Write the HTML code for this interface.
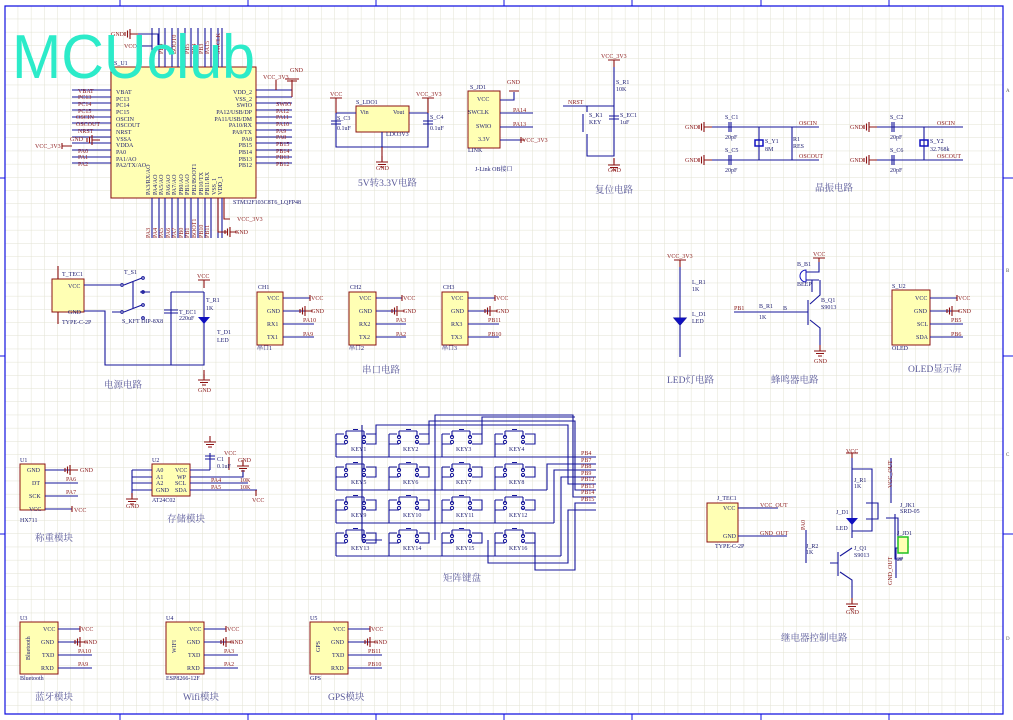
<!DOCTYPE html>
<html><head><meta charset="utf-8"><style>
html,body{margin:0;padding:0;background:#fff}
svg{display:block}
.w{stroke:#16169a;stroke-width:1.1;fill:none}
.r{stroke:#8b1010;stroke-width:1.1;fill:none}
.b{fill:#ffffb4;stroke:#8b1010;stroke-width:1}
.t{font-family:"Liberation Serif","Noto Serif CJK SC",serif;font-size:6px;fill:#1c1c70}
.n{font-family:"Liberation Serif","Noto Serif CJK SC",serif;font-size:6px;fill:#8b1a1a}
.g{font-family:"Liberation Serif","Noto Serif CJK SC",serif;font-size:5px;fill:#555}
.c{font-family:"Liberation Serif","Noto Serif CJK SC",serif;font-size:9.5px;fill:#5a5a9a}
</style></head><body>
<svg width="1013" height="720" viewBox="0 0 1013 720" xmlns="http://www.w3.org/2000/svg">
<defs>
<pattern id="grid" width="13.2" height="13.2" patternUnits="userSpaceOnUse" x="5" y="6">
<path d="M13.2 0V13.2H0" fill="none" stroke="#e2e2d2" stroke-width="1"/>
</pattern>
<g id="gnd"><path class="r" d="M0 -6V0M-6 0H6M-4 2.5H4M-2 5H2"/></g>
<g id="gl"><path class="r" d="M8 0H0M0 -5V5M-2.5 -3.5V3.5M-5 -2V2"/></g>
<g id="key"><path class="w" d="M0 0V10H10M0 0H8M30 0H40V10H30M40 10V10"/>
<circle cx="10" cy="3" r="1.6" fill="none" stroke="#16169a"/><circle cx="10" cy="8" r="1.6" fill="none" stroke="#16169a"/>
<circle cx="28" cy="3" r="1.6" fill="none" stroke="#16169a"/><circle cx="28" cy="8" r="1.6" fill="none" stroke="#16169a"/>
<path class="w" d="M10 -3H28M17 -4.5H22M10 10V10"/><path class="w" d="M28 10V8M10 3V-3M28 3V-3"/></g>
</defs>
<rect width="1013" height="720" fill="#fff"/>
<rect x="5" y="6" width="998" height="708" fill="url(#grid)"/>
<!-- frame -->
<path d="M5 6H1003V714H5Z" fill="none" stroke="#1010e0" stroke-width="1.2"/>
<path d="M120 0V6M248 0V6M376 0V6M504 0V6M632 0V6M761 0V6M889 0V6M120 714V720M248 714V720M376 714V720M504 714V720M632 714V720M761 714V720M889 714V720M0 178H5M0 356H5M0 534H5M1003 178H1013M1003 356H1013M1003 534H1013" stroke="#1010e0" stroke-width="1"/>
<text x="1006" y="92" class="g">A</text><text x="1006" y="272" class="g">B</text><text x="1006" y="456" class="g">C</text><text x="1006" y="640" class="g">D</text>

<!-- MCU -->
<rect x="111" y="67" width="145" height="131" class="b"/>
<g class="w">
<path d="M72 90H111M72 97H111M72 103H111M72 110H111M72 117H111M72 123H111M72 130H111M72 137H111M72 143H111M72 150H111M72 157H111M72 163H111"/>
<path d="M256 90H292M256 97H292M256 103H292M256 110H292M256 117H292M256 123H292M256 130H292M256 137H292M256 143H292M256 150H292M256 157H292M256 163H292"/>
<path d="M152 28V67M159 28V67M165 28V67M172 28V67M178 28V67M185 28V67M191 28V67M198 28V67M205 28V67M211 28V67M218 28V67M222 28V67"/>
<path d="M152 198V238M159 198V238M165 198V238M172 198V238M178 198V238M185 198V238M191 198V238M198 198V238M205 198V238M211 198V238M218 198V238M222 198V238"/>
<path d="M136 34H158V45M136 46H152"/>
</g>
<use href="#gl" x="130" y="34"/><text x="111" y="36" class="n">GND</text><text x="124" y="48" class="n">VCC</text>
<text x="114" y="65" class="t">S_U1</text>
<g class="t" font-size="5.5">
<text x="116" y="94">VBAT</text><text x="116" y="101">PC13</text><text x="116" y="107">PC14</text><text x="116" y="114">PC15</text><text x="116" y="121">OSCIN</text><text x="116" y="127">OSCOUT</text><text x="116" y="134">NRST</text><text x="116" y="141">VSSA</text><text x="116" y="147">VDDA</text><text x="116" y="154">PA0</text><text x="116" y="161">PA1/AO</text><text x="116" y="167">PA2/TX/AO</text>
<text x="252" y="94" text-anchor="end">VDD_2</text><text x="252" y="101" text-anchor="end">VSS_2</text><text x="252" y="107" text-anchor="end">SWIO</text><text x="252" y="114" text-anchor="end">PA12/USB/DP</text><text x="252" y="121" text-anchor="end">PA11/USB/DM</text><text x="252" y="127" text-anchor="end">PA10/RX</text><text x="252" y="134" text-anchor="end">PA9/TX</text><text x="252" y="141" text-anchor="end">PA8</text><text x="252" y="147" text-anchor="end">PB15</text><text x="252" y="154" text-anchor="end">PB14</text><text x="252" y="161" text-anchor="end">PB13</text><text x="252" y="167" text-anchor="end">PB12</text>
</g>
<g class="n" font-size="5.5">
<text x="78" y="93">VBAT</text><text x="78" y="99">PC13</text><text x="78" y="106">PC14</text><text x="78" y="113">PC15</text><text x="76" y="119">OSCIN</text><text x="76" y="126">OSCOUT</text><text x="78" y="133">NRST</text><text x="78" y="153">PA0</text><text x="78" y="159">PA1</text><text x="78" y="166">PA2</text>
<text x="276" y="106">SWIO</text><text x="276" y="113">PA12</text><text x="276" y="119">PA11</text><text x="276" y="126">PA10</text><text x="276" y="133">PA9</text><text x="276" y="139">PA8</text><text x="276" y="146">PB15</text><text x="276" y="153">PB14</text><text x="276" y="159">PB13</text><text x="276" y="166">PB12</text>
<text x="35" y="148">VCC_3V3</text><text x="70" y="141">GND</text>
<text x="263" y="79">VCC_3V3</text><text x="290" y="72">GND</text>
<text x="237" y="221">VCC_3V3</text><text x="235" y="234">GND</text>
</g>
<path class="r" d="M62 146H72M62 143V149M276 80V90M292 80V97M285 79H299M287 81H297M224 198V219H230M218 198V232H228"/>
<use href="#gl" x="92" y="140"/>
<use href="#gl" x="230" y="232"/>
<text x="233" y="204" class="t" font-size="5.5">STM32F103C8T6_LQFP48</text>
<g class="n" font-size="5">
<text transform="translate(150,238) rotate(-90)">PA3</text><text transform="translate(157,238) rotate(-90)">PA4</text><text transform="translate(163,238) rotate(-90)">PA5</text><text transform="translate(170,238) rotate(-90)">PA6</text><text transform="translate(176,238) rotate(-90)">PA7</text><text transform="translate(183,238) rotate(-90)">PB0</text><text transform="translate(189,238) rotate(-90)">PB1</text><text transform="translate(196,238) rotate(-90)">BOOT1</text><text transform="translate(203,238) rotate(-90)">PB10</text><text transform="translate(209,238) rotate(-90)">PB11</text>
<text transform="translate(163,54) rotate(-90)">PB9</text><text transform="translate(176,54) rotate(-90)">BOOT0</text><text transform="translate(189,54) rotate(-90)">PB5</text><text transform="translate(196,54) rotate(-90)">PB4</text><text transform="translate(203,54) rotate(-90)">PB3</text><text transform="translate(209,54) rotate(-90)">PA15</text><text transform="translate(220,54) rotate(-90)">SWCLK</text>
</g>
<g class="t" font-size="5"><text transform="translate(150,195) rotate(-90)">PA3/RX/AO</text><text transform="translate(157,195) rotate(-90)">PA4/AO</text><text transform="translate(163,195) rotate(-90)">PA5/AO</text><text transform="translate(170,195) rotate(-90)">PA6/AO</text><text transform="translate(176,195) rotate(-90)">PA7/AO</text><text transform="translate(183,195) rotate(-90)">PB0/AO</text><text transform="translate(189,195) rotate(-90)">PB1/AO</text><text transform="translate(196,195) rotate(-90)">PB2/BOOT1</text><text transform="translate(203,195) rotate(-90)">PB10/TX</text><text transform="translate(209,195) rotate(-90)">PB11/RX</text><text transform="translate(216,195) rotate(-90)">VSS_1</text><text transform="translate(222,195) rotate(-90)">VDD_1</text></g>
<text x="12" y="78" font-family="Liberation Sans,sans-serif" font-size="62" fill="#2cebc9" textLength="243" lengthAdjust="spacingAndGlyphs">MCUclub</text>

<!-- LDO -->
<rect x="356" y="106" width="53" height="26" class="b"/>
<g class="w"><path d="M336 113H356M409 113H428M336 113V147H428V113M382 132V147"/>
<path d="M331 121H341M331 124H341M423 121H433M423 124H433"/></g>
<path class="r" d="M336 98V113M330 98H342M428 98V113M422 98H434M382 147V162"/>
<use href="#gnd" x="382" y="162"/>
<text x="330" y="96" class="n">VCC</text><text x="416" y="96" class="n">VCC_3V3</text><text x="376" y="170" class="n">GND</text>
<text x="356" y="104" class="t">S_LDO1</text><text x="360" y="114" class="t">Vin</text><text x="393" y="114" class="t">Vout</text><text x="386" y="136" class="t">LDO3V3</text>
<text x="337" y="120" class="t">S_C3</text><text x="337" y="130" class="t">0.1uF</text><text x="430" y="119" class="t">S_C4</text><text x="430" y="130" class="t">0.1uF</text>
<text x="358" y="186" class="c" font-size="9">5V转3.3V电路</text>
<!-- JLink -->
<rect x="468" y="91" width="32" height="57" class="b"/>
<g class="w"><path d="M500 100H514V92M500 113H533M500 127H533M500 140H521"/></g>
<path class="r" d="M509 91H519M521 137V143M521 140H525"/>
<text x="507" y="84" class="n">GND</text>
<text x="470" y="89" class="t">S_JD1</text><text x="477" y="101" class="t">VCC</text><text x="468" y="114" class="t">SWCLK</text><text x="476" y="128" class="t">SWIO</text><text x="478" y="141" class="t">3.3V</text><text x="468" y="152" class="t">LINK</text>
<text x="513" y="112" class="n">PA14</text><text x="513" y="126" class="n">PA13</text><text x="522" y="142" class="n">VCC_3V3</text>
<text x="475" y="171" class="t" font-size="8.5" fill="#222">J-Link OB接口</text>
<!-- reset -->
<path class="r" d="M614 60V67M608 60H620M614 158V163"/><use href="#gnd" x="614" y="165"/>
<g class="w"><path d="M614 67V106M563 106H614V156H587V134M587 106V112M614 106V115M614 120V156M609 116H619M609 119H619M583 114V132"/></g>
<text x="601" y="58" class="n">VCC_3V3</text><text x="568" y="104" class="n">NRST</text><text x="608" y="172" class="n">GND</text>
<text x="616" y="84" class="t">S_R1</text><text x="616" y="91" class="t">10K</text><text x="589" y="117" class="t">S_K1</text><text x="589" y="124" class="t">KEY</text><text x="620" y="117" class="t">S_EC1</text><text x="620" y="124" class="t">1uF</text>
<text x="595" y="193" class="c">复位电路</text>
<!-- crystal -->
<g class="w"><path d="M712 127H819M712 160H819M759 127V160M792 127V160M729 122V132M731 122V132M729 155V165M731 155V165"/>
<path d="M876 127H963M876 160H963M924 127V160M892 122V132M894 122V132M892 155V165M894 155V165"/></g>
<rect x="755" y="140" width="8" height="6" fill="none" stroke="#1010c0" stroke-width="1.5"/>
<rect x="920" y="140" width="8" height="6" fill="none" stroke="#1010c0" stroke-width="1.5"/>
<use href="#gl" x="704" y="127"/><use href="#gl" x="704" y="160"/><use href="#gl" x="869" y="127"/><use href="#gl" x="869" y="160"/>
<g class="n"><text x="685" y="129">GND</text><text x="685" y="162">GND</text><text x="850" y="129">GND</text><text x="850" y="162">GND</text>
<text x="799" y="125">OSCIN</text><text x="799" y="158">OSCOUT</text><text x="937" y="125">OSCIN</text><text x="937" y="158">OSCOUT</text></g>
<g class="t"><text x="725" y="119">S_C1</text><text x="725" y="139">20pF</text><text x="725" y="152">S_C5</text><text x="725" y="172">20pF</text><text x="765" y="143">S_Y1</text><text x="765" y="151">8M</text><text x="793" y="141">R1</text><text x="793" y="148">RES</text>
<text x="890" y="119">S_C2</text><text x="890" y="139">20pF</text><text x="890" y="152">S_C6</text><text x="890" y="172">20pF</text><text x="930" y="143">S_Y2</text><text x="930" y="151">32.768k</text></g>
<text x="815" y="191" class="c">晶振电路</text>

<!-- power -->
<rect x="52" y="279" width="32" height="33" class="b"/>
<g class="w"><path d="M84 285H112M84 311H105V365H204V307M171 292H204M171 292V365M204 292V330M164 310H178M164 313H178"/>
<path d="M112 285H120M124 285L142 278M112 312H120M124 312L142 305M133 282V308M140 292H150"/>
<circle cx="122" cy="285" r="1.3"/><circle cx="122" cy="312" r="1.3"/><circle cx="143" cy="278" r="1.3"/><circle cx="143" cy="292" r="1.3"/><circle cx="143" cy="305" r="1.3"/><circle cx="143" cy="318" r="1.3"/></g>
<path d="M198 317H210L204 324Z" fill="#1010c0"/>
<path class="r" d="M204 280V288M198 280H210M204 370V378M58 266V279M58 312V324"/>
<use href="#gnd" x="204" y="380"/>
<text x="197" y="278" class="n">VCC</text><text x="198" y="392" class="n">GND</text>
<g class="t"><text x="62" y="276">T_TEC1</text><text x="68" y="288">VCC</text><text x="68" y="314">GND</text><text x="62" y="324">TYPE-C-2P</text><text x="124" y="274">T_S1</text><text x="122" y="323">S_KFT DIP-8X8</text><text x="179" y="314">T_EC1</text><text x="179" y="320">220uF</text><text x="206" y="302">T_R1</text><text x="206" y="310">1K</text><text x="217" y="334">T_D1</text><text x="217" y="342">LED</text></g>
<text x="104" y="388" class="c">电源电路</text>
<!-- serial -->
<g>
<rect x="257" y="292" width="26" height="53" class="b"/><rect x="349" y="292" width="27" height="53" class="b"/><rect x="442" y="292" width="26" height="53" class="b"/>
<g class="w"><path d="M283 298H310M283 311H305M283 324H314M283 337H314M376 298H402M376 311H397M376 324H406M376 337H406M468 298H495M468 311H490M468 324H499M468 337H499"/></g>
<path class="r" d="M310 295V301M402 295V301M495 295V301"/>
<use href="#gl" x="305" y="311"/><use href="#gl" x="397" y="311"/><use href="#gl" x="490" y="311"/>
<g class="t"><text x="258" y="289">CH1</text><text x="350" y="289">CH2</text><text x="443" y="289">CH3</text>
<text x="267" y="300">VCC</text><text x="267" y="313">GND</text><text x="267" y="326">RX1</text><text x="267" y="339">TX1</text><text x="257" y="350">串口1</text>
<text x="359" y="300">VCC</text><text x="359" y="313">GND</text><text x="359" y="326">RX2</text><text x="359" y="339">TX2</text><text x="349" y="350">串口2</text>
<text x="451" y="300">VCC</text><text x="451" y="313">GND</text><text x="451" y="326">RX3</text><text x="451" y="339">TX3</text><text x="442" y="350">串口3</text></g>
<g class="n"><text x="311" y="300">VCC</text><text x="311" y="313">GND</text><text x="303" y="322">PA10</text><text x="303" y="336">PA9</text>
<text x="403" y="300">VCC</text><text x="403" y="313">GND</text><text x="396" y="322">PA3</text><text x="396" y="336">PA2</text>
<text x="496" y="300">VCC</text><text x="496" y="313">GND</text><text x="488" y="322">PB11</text><text x="488" y="336">PB10</text></g>
<text x="362" y="373" class="c">串口电路</text>
</g>
<!-- LED -->
<path class="r" d="M680 260V267M674 260H686"/>
<g class="w"><path d="M680 267V357M674 318H686L680 325Z"/></g><path d="M674 318H686L680 325Z" fill="#1010c0"/>
<text x="667" y="258" class="n">VCC_3V3</text><text x="692" y="284" class="t">L_R1</text><text x="692" y="291" class="t">1K</text><text x="692" y="316" class="t">L_D1</text><text x="692" y="323" class="t">LED</text>
<text x="667" y="383" class="c" fill="#222">LED灯电路</text>
<!-- buzzer -->
<g class="w"><path d="M734 312H808M808 300V325M810 304L820 295V280M810 320L820 328V345M819 262V272H806M806 280H819M812 280V292"/></g>
<path d="M806 270A5 5 0 0 0 806 282Z" fill="none" stroke="#1010c0"/>
<path class="r" d="M819 258V262M813 258H825"/><use href="#gnd" x="820" y="351"/>
<text x="813" y="256" class="n">VCC</text><text x="814" y="363" class="n">GND</text><text x="734" y="310" class="n">PB1</text>
<g class="t"><text x="797" y="266">B_B1</text><text x="797" y="286">BEEP</text><text x="759" y="308">B_R1</text><text x="759" y="319">1K</text><text x="783" y="310">B</text><text x="821" y="302">B_Q1</text><text x="821" y="309">S9013</text></g>
<text x="771" y="383" class="c">蜂鸣器电路</text>
<!-- OLED -->
<rect x="892" y="290" width="38" height="55" class="b"/>
<g class="w"><path d="M930 298H957M930 311H952M930 324H963M930 337H963"/></g>
<path class="r" d="M957 295V301"/><use href="#gl" x="952" y="311"/>
<g class="t"><text x="892" y="288">S_U2</text><text x="915" y="300">VCC</text><text x="914" y="313">GND</text><text x="917" y="326">SCL</text><text x="916" y="339">SDA</text><text x="892" y="350">OLED</text></g>
<g class="n"><text x="958" y="300">VCC</text><text x="958" y="313">GND</text><text x="951" y="322">PB5</text><text x="951" y="336">PB6</text></g>
<text x="908" y="372" class="c" fill="#222">OLED显示屏</text>

<!-- keyboard -->
<g>
<use href="#key" x="336" y="434"/><use href="#key" x="389" y="434"/><use href="#key" x="442" y="434"/><use href="#key" x="495" y="434"/>
<use href="#key" x="336" y="467"/><use href="#key" x="389" y="467"/><use href="#key" x="442" y="467"/><use href="#key" x="495" y="467"/>
<use href="#key" x="336" y="500"/><use href="#key" x="389" y="500"/><use href="#key" x="442" y="500"/><use href="#key" x="495" y="500"/>
<use href="#key" x="336" y="533"/><use href="#key" x="389" y="533"/><use href="#key" x="442" y="533"/><use href="#key" x="495" y="533"/>
<g class="w"><path d="M336 457H596M336 490H547M336 523H554M336 556H561M336 444V457M336 477V490M336 510V523M336 543V556M389 444V457M389 477V490M389 510V523M389 543V556M442 444V457M442 477V490M442 510V523M442 543V556M495 444V457M495 477V490M495 510V523M495 543V556"/>
<path d="M376 434V425H568V484H596M429 434V421H575V490H596M482 434V417H575"/>
<path d="M547 490V464H596M554 523V470H596M561 556V477H596M382 540H362V425M435 540V415H573V497H596M488 540V563H568V510H596M535 540V570H575V503H596"/></g>
<g class="t" font-size="5.5" fill="#6a6aaa"><text x="351" y="451">KEY1</text><text x="403" y="451">KEY2</text><text x="456" y="451">KEY3</text><text x="509" y="451">KEY4</text>
<text x="351" y="484">KEY5</text><text x="403" y="484">KEY6</text><text x="456" y="484">KEY7</text><text x="509" y="484">KEY8</text>
<text x="351" y="517">KEY9</text><text x="403" y="517">KEY10</text><text x="456" y="517">KEY11</text><text x="509" y="517">KEY12</text>
<text x="351" y="550">KEY13</text><text x="403" y="550">KEY14</text><text x="456" y="550">KEY15</text><text x="509" y="550">KEY16</text></g>
<g class="n" font-size="5"><text x="581" y="455">PB4</text><text x="581" y="462">PB7</text><text x="581" y="468">PB8</text><text x="581" y="475">PB9</text><text x="581" y="481">PB12</text><text x="581" y="488">PB13</text><text x="581" y="494">PB14</text><text x="581" y="501">PB15</text></g>
<text x="443" y="581" class="c">矩阵键盘</text>
</g>

<!-- HX711 -->
<rect x="20" y="464" width="25" height="46" class="b"/>
<g class="w"><path d="M45 470H70M45 483H78M45 496H78M45 509H72"/></g>
<path class="r" d="M72 506V512"/><use href="#gl" x="70" y="470"/>
<g class="t"><text x="20" y="462">U1</text><text x="27" y="472">GND</text><text x="32" y="485">DT</text><text x="29" y="498">SCK</text><text x="29" y="511">VCC</text><text x="20" y="522">HX711</text></g>
<g class="n"><text x="80" y="472">GND</text><text x="66" y="481">PA6</text><text x="66" y="494">PA7</text><text x="74" y="512">VCC</text></g>
<text x="35" y="541" class="c">称重模块</text>
<!-- AT24C02 -->
<rect x="152" y="464" width="38" height="32" class="b"/>
<g class="w"><path d="M132 470H152M132 477H152M132 483H152M132 490H152M132 470V497M190 470H210M190 477H243V470M190 483H248M190 490H257M210 453V470M205 456H215M205 459H215"/></g>
<use href="#gnd" x="132" y="499"/><use href="#gnd" x="210" y="442"/><use href="#gnd" x="243" y="466"/>
<path class="r" d="M229 457V470M256 490V496"/>
<g class="t"><text x="152" y="462">U2</text><text x="156" y="472">A0</text><text x="156" y="479">A1</text><text x="156" y="485">A2</text><text x="156" y="492">GND</text><text x="175" y="472">VCC</text><text x="177" y="479">WP</text><text x="175" y="485">SCL</text><text x="175" y="492">SDA</text><text x="152" y="502">AT24C02</text><text x="217" y="461">C1</text><text x="217" y="468">0.1uF</text></g>
<g class="n"><text x="126" y="508">GND</text><text x="224" y="455">VCC</text><text x="238" y="462">GND</text><text x="211" y="482">PA4</text><text x="211" y="489">PA5</text><text x="252" y="502">VCC</text><text x="240" y="482">10K</text><text x="240" y="489">10K</text></g>
<text x="167" y="522" class="c">存储模块</text>
<!-- Bluetooth / WiFi / GPS -->
<g>
<rect x="20" y="622" width="38" height="52" class="b"/><rect x="166" y="622" width="38" height="52" class="b"/><rect x="310" y="622" width="38" height="52" class="b"/>
<g class="w"><path d="M58 629H80M58 642H80M58 655H92M58 668H92M204 629H226M204 642H226M204 655H238M204 668H238M348 629H370M348 642H370M348 655H382M348 668H382"/></g>
<path class="r" d="M80 626V632M226 626V632M370 626V632"/>
<use href="#gl" x="80" y="642"/><use href="#gl" x="226" y="642"/><use href="#gl" x="370" y="642"/>
<g class="t"><text x="20" y="620">U3</text><text x="166" y="620">U4</text><text x="310" y="620">U5</text>
<text x="43" y="631">VCC</text><text x="41" y="644">GND</text><text x="42" y="657">TXD</text><text x="41" y="670">RXD</text>
<text x="189" y="631">VCC</text><text x="187" y="644">GND</text><text x="188" y="657">TXD</text><text x="187" y="670">RXD</text>
<text x="333" y="631">VCC</text><text x="331" y="644">GND</text><text x="332" y="657">TXD</text><text x="331" y="670">RXD</text>
<text x="20" y="680">Bluetooth</text><text x="166" y="680">ESP8266-12F</text><text x="310" y="680">GPS</text>
<text transform="translate(30,660) rotate(-90)">Bluetooth</text><text transform="translate(176,653) rotate(-90)">WIFI</text><text transform="translate(320,652) rotate(-90)">GPS</text></g>
<g class="n"><text x="81" y="631">VCC</text><text x="84" y="644">GND</text><text x="78" y="653">PA10</text><text x="78" y="666">PA9</text>
<text x="227" y="631">VCC</text><text x="230" y="644">GND</text><text x="224" y="653">PA3</text><text x="224" y="666">PA2</text>
<text x="371" y="631">VCC</text><text x="374" y="644">GND</text><text x="368" y="653">PB11</text><text x="368" y="666">PB10</text></g>
<text x="35" y="700" class="c">蓝牙模块</text><text x="183" y="700" class="c" fill="#222">Wifi模块</text><text x="328" y="700" class="c" fill="#222">GPS模块</text>
</g>
<!-- relay -->
<rect x="707" y="503" width="31" height="39" class="b"/>
<g class="w"><path d="M738 508H778M738 536H787M852 458V538M852 469H872V531H852M866 503H878V519H866M830 563H838M838 552V576M840 556L852 548M840 572L852 580V598M806 563V530M891 458V503M895 514V559H902M886 518L898 518V544H902M902 548H896V578"/></g>
<path d="M846 518H858L852 525Z" fill="#1010c0"/>
<rect x="898" y="537" width="10" height="16" fill="#ffffb4" stroke="#20c020" stroke-width="1.5"/>
<path class="r" d="M852 453V458M846 453H858"/><use href="#gnd" x="852" y="604"/>
<g class="t"><text x="717" y="500">J_TEC1</text><text x="723" y="510">VCC</text><text x="723" y="538">GND</text><text x="715" y="548">TYPE-C-2P</text>
<text x="854" y="482">J_R1</text><text x="854" y="488">1K</text><text x="836" y="514">J_D1</text><text x="836" y="530">LED</text><text x="806" y="548">J_R2</text><text x="806" y="554">1K</text><text x="854" y="550">J_Q1</text><text x="854" y="557">S9013</text><text x="900" y="507">J_JK1</text><text x="900" y="513">SRD-05</text><text x="897" y="535">J_JD1</text><text x="897" y="561">2P</text></g>
<g class="n"><text x="846" y="453">VCC</text><text x="846" y="614">GND</text><text x="760" y="507">VCC_OUT</text><text x="760" y="535">GND_OUT</text><text transform="translate(805,530) rotate(-90)">PA0</text><text transform="translate(892,488) rotate(-90)">VCC_OUT</text><text transform="translate(892,585) rotate(-90)">GND_OUT</text></g>
<text x="781" y="641" class="c">继电器控制电路</text>
</svg>
</body></html>
